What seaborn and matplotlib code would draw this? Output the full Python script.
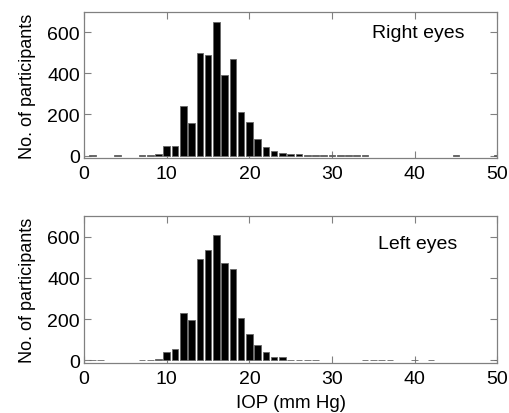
import matplotlib
matplotlib.use("Agg")
import matplotlib.pyplot as plt
import seaborn as sns
import pandas as pd

# IOP bins (mm Hg) and participant counts
right_bins = [1, 4, 7, 8, 9, 10, 11, 12, 13, 14, 15, 16, 17, 18, 19, 20, 21, 22, 23, 24, 25, 26,
              27, 28, 29, 30, 31, 32, 33, 34, 45, 50]
right_counts = [1, 1, 1, 3, 5, 45, 45, 240, 157, 499, 489, 651, 392, 470, 211, 165, 81, 42, 21, 13, 6, 8,
                1, 1, 1, 1, 1, 1, 1, 1, 1, 1]

left_bins = [1, 2, 7, 8, 9, 10, 11, 12, 13, 14, 15, 16, 17, 18, 19, 20, 21, 22, 23, 24, 25, 26,
             27, 28, 34, 35, 36, 37, 40, 42, 50]
left_counts = [1, 1, 1, 3, 5, 43, 53, 228, 196, 493, 536, 610, 472, 445, 207, 128, 75, 39, 19, 19, 2, 2,
               2, 2, 1, 1, 1, 1, 1, 1, 1]

panel_labels = ["Right eyes", "Left eyes"]
x_ticks = [0, 10, 20, 30, 40, 50]
y_ticks = [0, 200, 400, 600]

sns.set_theme(style="white")
plt.rcParams["font.family"] = ["Liberation Sans", "DejaVu Sans"]

fig = plt.figure(figsize=(5.10, 4.14), dpi=100)
ax1 = fig.add_axes([0.165, 0.616, 0.810, 0.353])
ax2 = fig.add_axes([0.165, 0.121, 0.810, 0.355])

frame_col = "#808080"
label_pos = [(0.697, 0.831), (0.712, 0.784)]
for ax, bins, counts, label, pos in [(ax1, right_bins, right_counts, panel_labels[0], label_pos[0]),
                                     (ax2, left_bins, left_counts, panel_labels[1], label_pos[1])]:
    df = pd.DataFrame({"iop": bins, "n": counts})
    sns.barplot(data=df, x="iop", y="n", native_scale=True, width=0.8, color="black",
                edgecolor="#666666", linewidth=0.6, errorbar=None, saturation=1, ax=ax)
    ax.set_xlim(0, 50)
    ax.set_ylim(-12, 700)
    ax.set_xticks(x_ticks)
    ax.set_yticks(y_ticks)
    ax.set_xticklabels([str(t) for t in x_ticks])
    ax.tick_params(direction="in", length=5, width=0.8, color=frame_col,
                   labelsize=14, labelcolor="black", top=True, right=True,
                   bottom=True, left=True, pad=3)
    ax.tick_params(axis="x", pad=5)
    for s in ax.spines.values():
        s.set_visible(True)
        s.set_color(frame_col)
        s.set_linewidth(0.9)
    ax.set_ylabel("No. of participants", fontsize=13, color="black", labelpad=8)
    ax.set_xlabel("")
    ax.text(pos[0], pos[1], label, transform=ax.transAxes, ha="left", va="baseline",
            fontsize=14, color="black")

ax2.set_xlabel("IOP (mm Hg)", fontsize=13.5, color="black", labelpad=5)

fig.savefig("out.png", dpi=100, facecolor="white")
